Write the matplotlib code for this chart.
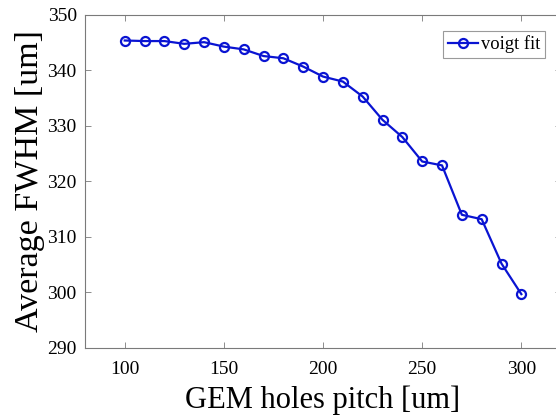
import numpy as np
import matplotlib.pyplot as plt

# GEM hole pitch scan, average FWHM from the voigt fit
pitch = [100, 110, 120, 130, 140, 150, 160, 170, 180, 190, 200,
         210, 220, 230, 240, 250, 260, 270, 280, 290, 300]
fwhm = [345.4, 345.3, 345.3, 344.8, 345.1, 344.3, 343.8, 342.6, 342.2, 340.7, 338.9,
        338.0, 335.3, 331.1, 328.0, 323.6, 322.9, 314.0, 313.2, 305.2, 299.7]

plt.rcParams['font.family'] = ['Liberation Serif', 'DejaVu Serif']

fig = plt.figure(figsize=(5.56, 4.16), dpi=100)
ax = fig.add_axes([0.153, 0.1635, 0.856, 0.8005])

ax.plot(pitch, fwhm, '-o', color='#0a14d2', lw=1.6, ms=6.5,
        mfc='none', mew=1.6, label='voigt fit')

ax.set_xlim(80, 320)
ax.set_ylim(290, 350)
ax.set_xticks([100, 150, 200, 250, 300])
ax.set_yticks(np.arange(290, 351, 10))

for sp in ax.spines.values():
    sp.set_color('#7a7a7a')
    sp.set_linewidth(0.8)
ax.spines['right'].set_visible(False)
ax.tick_params(direction='in', length=4, width=0.6, color='#7a7a7a',
               labelsize=14, top=True, right=True)
ax.tick_params(axis='y', which='both', right=True, length=6)
ax.tick_params(axis='x', pad=9.5)
ax.tick_params(axis='y', pad=6, length=4)

ax.set_xlabel('GEM holes pitch [um]', fontsize=22, labelpad=5)
ax.set_ylabel('Average FWHM [um]', fontsize=24.5, labelpad=2)

leg = ax.legend(loc='upper right', bbox_to_anchor=(0.967, 0.953), fontsize=13.3,
                handlelength=1.6, handletextpad=0.2, borderpad=0.25,
                borderaxespad=0.0, fancybox=False, framealpha=1)
leg.get_frame().set_edgecolor('#9a9a9a')
leg.get_frame().set_linewidth(0.8)

fig.savefig('out.png', dpi=100)
